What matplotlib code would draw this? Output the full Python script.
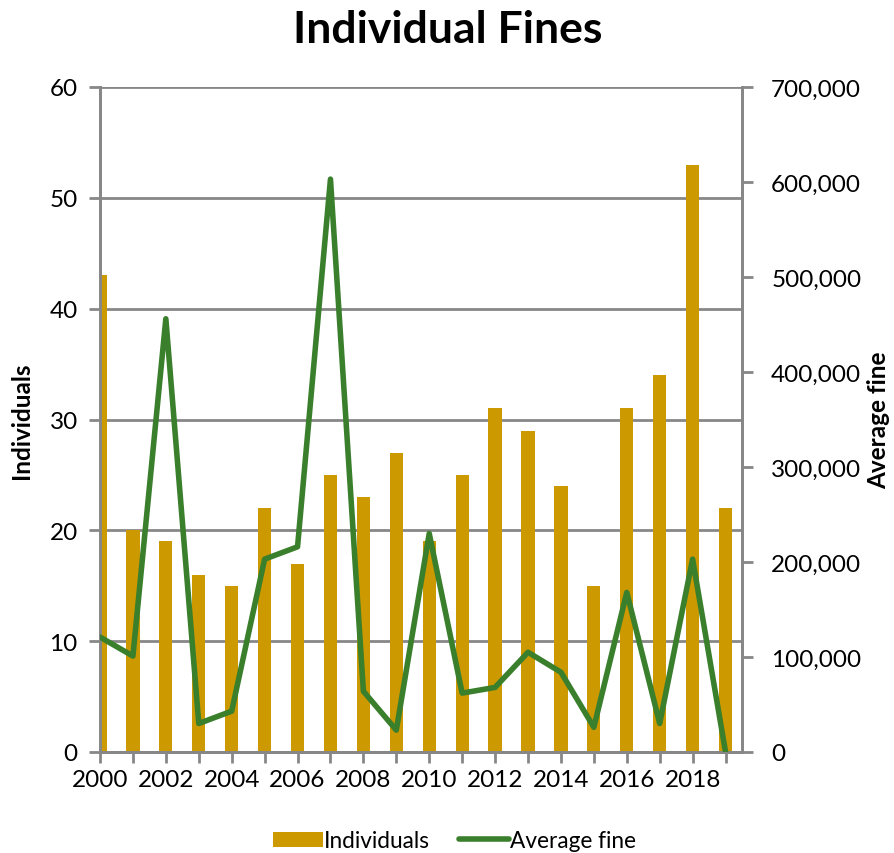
import matplotlib.pyplot as plt
from matplotlib.ticker import FuncFormatter

plt.rcParams['font.family'] = ['Lato', 'DejaVu Sans']

years = list(range(2000, 2020))
individuals = [43, 20, 19, 16, 15, 22, 17, 25, 23, 27, 19, 25, 31, 29, 24, 15, 31, 34, 53, 22]
average_fine = [121000, 101000, 456000, 30000, 43000, 203000, 216000, 603000, 64000, 23000,
                230000, 62000, 68000, 105000, 84000, 26000, 168000, 30000, 203000, 0]

bar_color = '#CC9900'
line_color = '#3A7F2C'
grid_color = '#878787'

fig = plt.figure(figsize=(8.95, 8.54), dpi=100)
ax = fig.add_axes([100 / 895, 1 - 753 / 854, 642 / 895, 665 / 854])
ax2 = ax.twinx()

# bars on the left axis
ax.bar(years, individuals, width=0.4, color=bar_color, label='Individuals', zorder=2)
ax.set_xlim(2000, 2019.5)
ax.set_ylim(0, 60)
ax.set_yticks(range(0, 61, 10))
ax.set_xticks(range(2000, 2020))
ax.set_xticklabels([str(y) if y % 2 == 0 else '' for y in years])
ax.grid(axis='y', color=grid_color, linewidth=2, zorder=0)
ax.set_axisbelow(True)
ax.set_ylabel('Individuals', fontsize=17.5, fontweight='bold')
ax.yaxis.set_label_coords(-0.105, 0.5)

# line on the right axis
ax2.plot(years, average_fine, color=line_color, linewidth=4, label='Average fine',
         solid_joinstyle='round', solid_capstyle='round', zorder=3)
ax2.set_ylim(0, 700000)
ax2.set_yticks(range(0, 700001, 100000))
ax2.yaxis.set_major_formatter(FuncFormatter(lambda v, p: f'{int(v):,}'))
ax2.set_ylabel('Average fine', fontsize=17.5, fontweight='bold')
ax2.yaxis.set_label_coords(1.195, 0.5)

for a in (ax, ax2):
    a.spines['top'].set_visible(False)
    for s in ('left', 'right', 'bottom'):
        a.spines[s].set_color(grid_color)
        a.spines[s].set_linewidth(2)
    a.tick_params(axis='both', colors=grid_color, labelcolor='black', labelsize=17.5,
                  width=2, length=8, direction='out')
ax.tick_params(axis='y', pad=8)
ax2.tick_params(axis='y', pad=13)
ax.tick_params(axis='x', pad=4)

fig.suptitle('Individual Fines', fontsize=32, fontweight='bold', y=0.988)

h1, l1 = ax.get_legend_handles_labels()
h2, l2 = ax2.get_legend_handles_labels()
fig.legend(h1 + h2, l1 + l2, loc='lower center', bbox_to_anchor=(0.508, -0.022), ncol=2,
           frameon=False, fontsize=16.3, handlelength=2.2, columnspacing=1.3, handletextpad=0.05)

fig.savefig('out.png', dpi=100)
